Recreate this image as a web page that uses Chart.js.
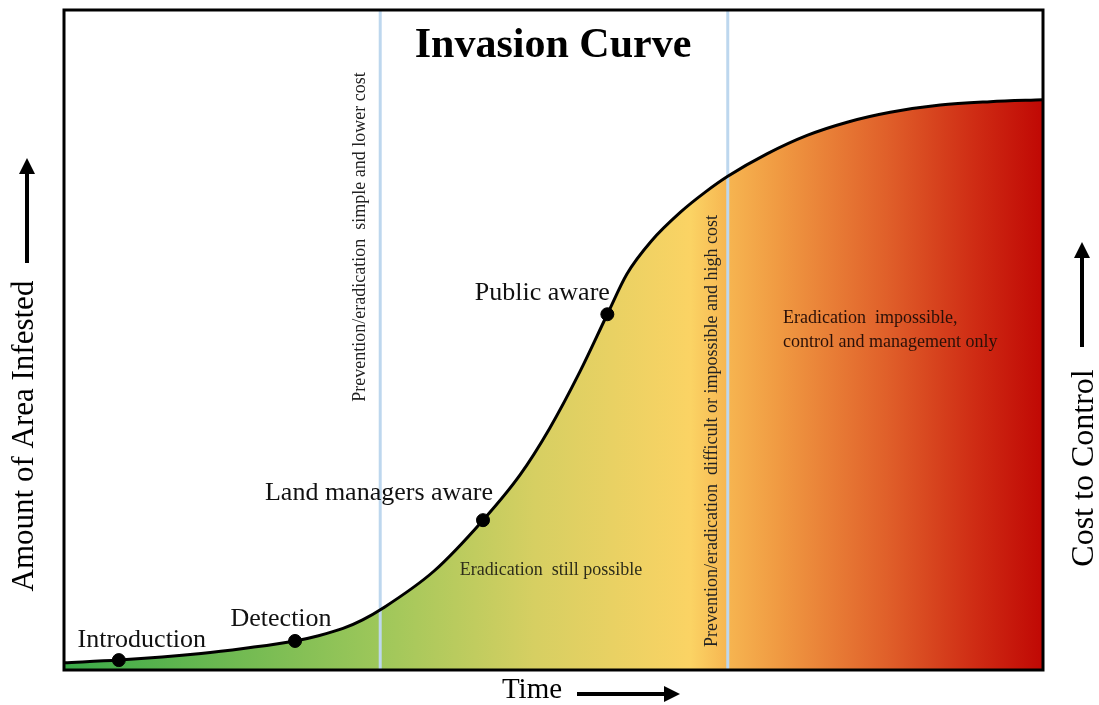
<!DOCTYPE html>
<html>
<head>
<meta charset="utf-8">
<title>Invasion Curve</title>
<script src="https://cdn.jsdelivr.net/npm/chart.js@4/dist/chart.umd.min.js"></script>
<style>
  html, body { margin: 0; padding: 0; background: #fff; }
  canvas { display: block; }
</style>
</head>
<body>
<canvas id="invasionChart" width="1099" height="705"></canvas>
<script>
// time (0-100) and amount of area infested (0-100)
const timeValues = [0, 5.6, 14, 18.5, 23.6, 26, 28.5, 30.5, 32.6, 37.8, 42.8, 46.6, 49.6, 52.7, 55.5, 57.5, 60, 63, 65.5, 67.8, 71.8, 75.9, 80, 84.4, 89.5, 94.6, 100];
const areaValues = [1.1, 1.5, 2.5, 3.3, 4.4, 5.2, 6.3, 7.6, 9.4, 15.0, 22.7, 29.6, 36.6, 45.2, 53.9, 60.0, 65.0, 69.4, 72.4, 74.8, 78.2, 81.0, 83.0, 84.5, 85.6, 86.1, 86.4];

// stages marked on the curve
const milestoneNames = ['Introduction', 'Detection', 'Land managers aware', 'Public aware'];
const milestoneTime = [5.6, 23.6, 42.8, 55.5];
const milestoneArea = [1.5, 4.4, 22.7, 53.9];

// phase boundaries (time)
const phaseBoundaries = [32.3, 67.8];

const serif = '"Liberation Serif", "Times New Roman", serif';

const curvePoints = timeValues.map((t, i) => ({ x: t, y: areaValues[i] }));
const milestonePoints = milestoneTime.map((t, i) => ({ x: t, y: milestoneArea[i] }));

function fillGradient(context) {
    const area = context.chart.chartArea;
    if (!area) return '#3aaa48';
    const g = context.chart.ctx.createLinearGradient(area.left, 0, area.right, 0);
    g.addColorStop(0.00, '#3aaa48');
    g.addColorStop(0.32, '#9dc75a');
    g.addColorStop(0.48, '#d6cf62');
    g.addColorStop(0.64, '#fbd364');
    g.addColorStop(0.68, '#f6b450');
    g.addColorStop(0.73, '#f09a42');
    g.addColorStop(0.84, '#e0602a');
    g.addColorStop(0.93, '#cf2c14');
    g.addColorStop(1.00, '#c00804');
    return g;
}

function drawArrow(ctx, x1, y1, x2, y2) {
    const ang = Math.atan2(y2 - y1, x2 - x1);
    const headLen = 16, headW = 8;
    const bx = x2 - headLen * Math.cos(ang), by = y2 - headLen * Math.sin(ang);
    ctx.save();
    ctx.strokeStyle = '#000';
    ctx.fillStyle = '#000';
    ctx.lineWidth = 4;
    ctx.beginPath();
    ctx.moveTo(x1, y1);
    ctx.lineTo(bx, by);
    ctx.stroke();
    ctx.beginPath();
    ctx.moveTo(x2, y2);
    ctx.lineTo(bx + headW * Math.sin(ang), by - headW * Math.cos(ang));
    ctx.lineTo(bx - headW * Math.sin(ang), by + headW * Math.cos(ang));
    ctx.closePath();
    ctx.fill();
    ctx.restore();
}

function rotatedText(ctx, text, x, y, font, color) {
    ctx.save();
    ctx.translate(x, y);
    ctx.rotate(-Math.PI / 2);
    ctx.font = font;
    ctx.fillStyle = color;
    ctx.textAlign = 'center';
    ctx.textBaseline = 'middle';
    ctx.fillText(text, 0, 0);
    ctx.restore();
}

// labels, frame and axis arrows
const annotations = {
    id: 'annotations',
    afterDraw(chart) {
        const ctx = chart.ctx;
        const a = chart.chartArea;
        const xs = chart.scales.x, ys = chart.scales.y;

        // frame
        ctx.save();
        ctx.strokeStyle = '#000';
        ctx.lineWidth = 3;
        ctx.strokeRect(a.left, a.top, a.right - a.left, a.bottom - a.top);
        ctx.restore();

        // title
        ctx.save();
        ctx.font = 'bold 42px ' + serif;
        ctx.fillStyle = '#000';
        ctx.textAlign = 'center';
        ctx.textBaseline = 'middle';
        ctx.fillText('Invasion Curve', 553, 46);
        ctx.restore();

        // milestone labels
        const offsets = [[23, -20], [-14, -22], [-104, -27], [-65, -21]];
        ctx.save();
        ctx.font = '26px ' + serif;
        ctx.fillStyle = '#111';
        ctx.textAlign = 'center';
        ctx.textBaseline = 'middle';
        milestoneNames.forEach((name, i) => {
            const px = xs.getPixelForValue(milestoneTime[i]);
            const py = ys.getPixelForValue(milestoneArea[i]);
            ctx.fillText(name, px + offsets[i][0], py + offsets[i][1]);
        });
        ctx.restore();

        // phase texts
        rotatedText(ctx, 'Prevention/eradication  simple and lower cost', 360, 237, '18px ' + serif, '#222');
        rotatedText(ctx, 'Prevention/eradication  difficult or impossible and high cost', 712, 431, '18px ' + serif, '#222');

        ctx.save();
        ctx.font = '18px ' + serif;
        ctx.fillStyle = '#2e2e1a';
        ctx.textAlign = 'center';
        ctx.textBaseline = 'middle';
        ctx.fillText('Eradication  still possible', 551, 570);
        ctx.fillStyle = '#2a1008';
        ctx.textAlign = 'left';
        ctx.fillText('Eradication  impossible,', 783, 318);
        ctx.fillText('control and management only', 783, 342);
        ctx.restore();

        // axis titles and arrows
        rotatedText(ctx, 'Amount of Area Infested', 25, 436, '31px ' + serif, '#000');
        drawArrow(ctx, 27, 263, 27, 158);

        rotatedText(ctx, 'Cost to Control', 1085, 468, '32px ' + serif, '#000');
        drawArrow(ctx, 1082, 347, 1082, 242);

        ctx.save();
        ctx.font = '29px ' + serif;
        ctx.fillStyle = '#000';
        ctx.textAlign = 'center';
        ctx.textBaseline = 'middle';
        ctx.fillText('Time', 532, 690);
        ctx.restore();
        drawArrow(ctx, 577, 694, 680, 694);
    }
};

const boundaryDatasets = phaseBoundaries.map(t => ({
    data: [{ x: t, y: 0 }, { x: t, y: 100 }],
    borderColor: '#bdd7ee',
    borderWidth: 3,
    pointRadius: 0,
    tension: 0,
    fill: false,
    order: 2
}));

new Chart(document.getElementById('invasionChart'), {
    type: 'line',
    data: {
        datasets: [
            {
                // milestones
                data: milestonePoints,
                showLine: false,
                pointRadius: 6.5,
                pointBackgroundColor: '#000',
                pointBorderColor: '#000',
                order: 0
            },
            {
                // curve stroke
                data: curvePoints,
                borderColor: '#000',
                borderWidth: 3,
                cubicInterpolationMode: 'monotone',
                pointRadius: 0,
                fill: false,
                order: 1
            },
            ...boundaryDatasets,
            {
                // filled area under curve
                data: curvePoints,
                borderWidth: 0,
                borderColor: 'rgba(0,0,0,0)',
                cubicInterpolationMode: 'monotone',
                pointRadius: 0,
                fill: 'origin',
                backgroundColor: fillGradient,
                order: 3
            }
        ]
    },
    options: {
        responsive: false,
        animation: false,
        layout: { padding: { left: 64, top: 10, right: 56, bottom: 35 } },
        scales: {
            x: { type: 'linear', min: 0, max: 100, display: false },
            y: { type: 'linear', min: 0, max: 100, display: false }
        },
        plugins: {
            legend: { display: false },
            tooltip: { enabled: false }
        }
    },
    plugins: [annotations]
});
</script>
</body>
</html>
